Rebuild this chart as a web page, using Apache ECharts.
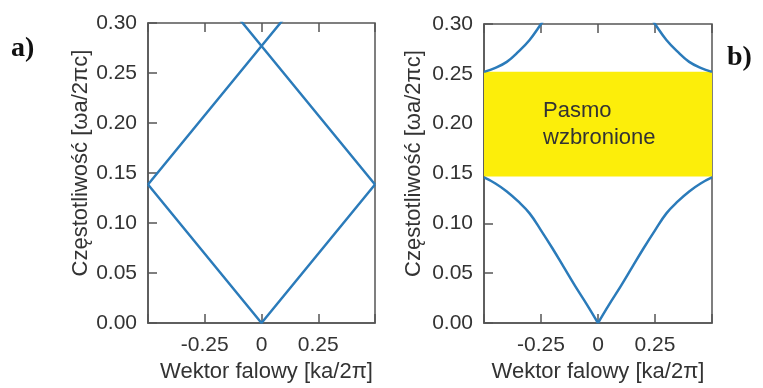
<!DOCTYPE html>
<html>
<head>
<meta charset="utf-8">
<script src="https://cdn.jsdelivr.net/npm/echarts@6/dist/echarts.min.js"></script>
<style>
html,body{margin:0;padding:0;background:#fff;}
#c{width:763px;height:388px;}
</style>
</head>
<body>
<div id="c"></div>
<script>
// ---- data ----
// panel a) : folded light line (homogeneous medium)
const aLowK = [-0.5, 0, 0.5];
const aLowW = [0.1385, 0, 0.1385];
const aUpAK = [-0.5, 0, 0.1];
const aUpAW = [0.1385, 0.277, 0.3047];
const aUpBK = [0.5, 0, -0.1];
const aUpBW = [0.1385, 0.277, 0.3047];

// panel b) : photonic crystal bands
const bLowLK = [-0.5,-0.45,-0.4,-0.35,-0.3,-0.25,-0.2,-0.15,-0.1,-0.05,0];
const bLowLW = [0.146,0.140,0.132,0.122,0.110,0.093,0.075,0.056,0.037,0.019,0];
const bLowRK = [0,0.05,0.1,0.15,0.2,0.25,0.3,0.35,0.4,0.45,0.5];
const bLowRW = [0,0.019,0.037,0.056,0.075,0.093,0.110,0.122,0.132,0.140,0.146];
const bUpLK = [-0.5,-0.45,-0.4,-0.35,-0.3,-0.25,-0.23];
const bUpLW = [0.252,0.256,0.262,0.272,0.284,0.300,0.307];
const bUpRK = [0.5,0.45,0.4,0.35,0.3,0.25,0.23];
const bUpRW = [0.252,0.256,0.262,0.272,0.284,0.300,0.307];
const gapBottom = 0.147;
const gapTop = 0.252;
const gapLabel = 'Pasmo\nwzbronione';

const xName = 'Wektor falowy [ka/2π]';
const yName = 'Częstotliwość [ωa/2πc]';

// ---- chart ----
const pair = (ks, ws) => ks.map((k, i) => [k, ws[i]]);
const FONT = 'Liberation Sans, Arial, sans-serif';
const AX = '#555';
const TXT = '#333';
const BLUE = '#2b7bba';

function xAxes(gi, namePad) {
  return [{
    type: 'value', gridIndex: gi, min: -0.5, max: 0.5, interval: 0.25,
    name: xName, nameLocation: 'middle', nameGap: 38,
    nameTextStyle: {fontFamily: FONT, fontSize: 22, color: TXT, padding: namePad},
    axisLine: {onZero: false, lineStyle: {color: AX, width: 1.5}},
    axisTick: {inside: true, length: 9, lineStyle: {color: AX, width: 1.5}},
    axisLabel: {fontFamily: FONT, fontSize: 21, color: TXT, margin: 12,
      formatter: v => (Math.abs(v) > 0.49 ? '' : (v === 0 ? '0' : String(v)))},
    splitLine: {show: false}
  }, {
    type: 'value', gridIndex: gi, position: 'top', min: -0.5, max: 0.5, interval: 0.25,
    axisLine: {show: false, onZero: false},
    axisTick: {inside: true, length: 9, lineStyle: {color: AX, width: 1.5}},
    axisLabel: {show: false}, splitLine: {show: false}
  }];
}
function yAxis(gi, gap) {
  return {
    type: 'value', gridIndex: gi, min: 0, max: 0.3, interval: 0.05,
    name: yName, nameLocation: 'middle', nameGap: gap,
    nameTextStyle: {fontFamily: FONT, fontSize: 22, color: TXT, padding: [0, 0, 0, 20]},
    axisLine: {onZero: false, lineStyle: {color: AX, width: 1.5}},
    axisTick: {inside: true, length: 9, lineStyle: {color: AX, width: 1.5}},
    axisLabel: {fontFamily: FONT, fontSize: 21, color: TXT, margin: 11,
      formatter: v => v.toFixed(2)},
    splitLine: {show: false}
  };
}
function line(xi, yi, data, extra) {
  return Object.assign({
    type: 'line', xAxisIndex: xi, yAxisIndex: yi, data: data,
    showSymbol: false, symbol: 'none', clip: true, animation: false,
    lineStyle: {color: BLUE, width: 2.5}
  }, extra || {});
}

const chart = echarts.init(document.getElementById('c'), null, {renderer: 'canvas'});
chart.setOption({
  animation: false,
  grid: [
    {left: 148, right: 388, top: 23, bottom: 65, show: true, borderColor: AX, borderWidth: 1.5},
    {left: 484, right: 51, top: 24, bottom: 65, show: true, borderColor: AX, borderWidth: 1.5}
  ],
  xAxis: [...xAxes(0, [0, 0, 0, 10]), ...xAxes(1, [0, 0, 0, 0])],
  yAxis: [yAxis(0, 56), yAxis(1, 59)],
  graphic: [
    {type: 'text', left: 11, top: 35, style: {text: 'a)', font: 'bold 28px "Liberation Serif", "Times New Roman", serif', fill: '#111'}},
    {type: 'text', left: 727, top: 44, style: {text: 'b)', font: 'bold 28px "Liberation Serif", "Times New Roman", serif', fill: '#111'}}
  ],
  series: [
    line(0, 0, pair(aLowK, aLowW)),
    line(0, 0, pair(aUpAK, aUpAW)),
    line(0, 0, pair(aUpBK, aUpBW)),
    line(2, 1, pair(bLowLK, bLowLW), {
      smooth: 0.4,
      markArea: {
        silent: true,
        itemStyle: {color: '#fcee0a'},
        label: {show: true, position: 'insideLeft', distance: 59, formatter: gapLabel,
          fontFamily: FONT, fontSize: 22, color: '#333', lineHeight: 27, align: 'left'},
        data: [[{xAxis: -0.5, yAxis: gapBottom}, {xAxis: 0.5, yAxis: gapTop}]]
      }
    }),
    line(2, 1, pair(bLowRK, bLowRW), {smooth: 0.4}),
    line(2, 1, pair(bUpLK, bUpLW), {smooth: 0.4}),
    line(2, 1, pair(bUpRK, bUpRW), {smooth: 0.4})
  ]
});
</script>
</body>
</html>
